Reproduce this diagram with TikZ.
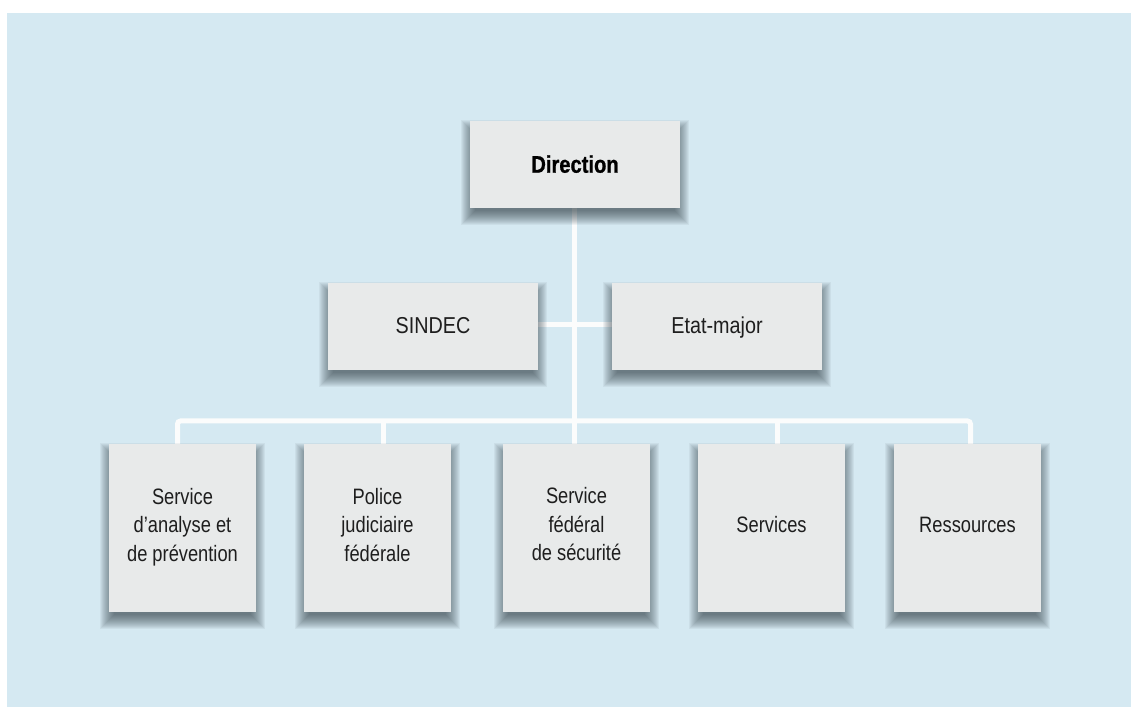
\documentclass[tikz,border=0pt]{standalone}
\usepackage{fontspec}
\setmainfont{Liberation Sans}[FakeStretch=0.82]
\newfontfamily\dirfont{Liberation Sans}[FakeStretch=0.84, BoldFeatures={FakeBold=0.8}]
\newfontfamily\midfont{Liberation Sans}[FakeStretch=0.86]
\definecolor{bgblue}{HTML}{D5E9F2}
\definecolor{boxfill}{HTML}{E8EAEA}
\definecolor{linecol}{HTML}{FBFCFC}
\definecolor{txt}{HTML}{1E1E1E}
\definecolor{shadowcol}{HTML}{2B3A42}
\tikzset{
  orgbox/.style={fill=boxfill, draw=none, inner sep=0pt},
  topbox/.style={orgbox, minimum width=210pt, minimum height=87pt},
  lowbox/.style={orgbox, minimum width=147pt, minimum height=168pt},
  shadowlayer/.style={fill=shadowcol, opacity=0.057},
  lowtext/.style={align=center, text=txt, font=\fontsize{22.3}{28.3}\selectfont, inner sep=0pt, anchor=base},
  midtext/.style={text=txt, font=\midfont\fontsize{23}{28}\selectfont, inner sep=0pt, anchor=base},
  dirtext/.style={text=black, font=\dirfont\bfseries\fontsize{24}{28}\selectfont, inner sep=0pt, anchor=base},
  conn/.style={draw=linecol, line width=5pt, rounded corners=3pt}
}
\newcommand\softshadow[1]{%
  \foreach \r [evaluate=\r as \lo using -8-\r, evaluate=\r as \hi using -8+\r,
               evaluate=\r as \nr using -\r] in {-5,...,9} {
    \fill[shadowlayer] ([shift={(\nr pt,\lo pt)}]#1.south west) rectangle ([shift={(\r pt,\hi pt)}]#1.north east);
  }%
}
\begin{document}
\begin{tikzpicture}[x=1pt,y=1pt]
\useasboundingbox (0,0) rectangle (1131,707);
\fill[white] (0,0) rectangle (1131,707);
\fill[bgblue] (7,0) rectangle (1131,694);

% connector junction coordinates
\coordinate (d1) at (177.5,286);
\coordinate (d2) at (383,286);
\coordinate (d3) at (574.5,286);
\coordinate (d4) at (777,286);
\coordinate (d5) at (970.5,286);
\coordinate (top) at (574.5,510);
\coordinate (jl) at (530,382);
\coordinate (jr) at (620,382);

% box positions (placeholders for names)
\path (575,542.5) node[topbox, fill=none] (dir) {};
\path (433,380.5) node[topbox, fill=none] (sindec) {};
\path (717,380.5) node[topbox, fill=none] (etat) {};
\path (182.5,179) node[lowbox, fill=none] (b1) {};
\path (377.5,179) node[lowbox, fill=none] (b2) {};
\path (576.5,179) node[lowbox, fill=none] (b3) {};
\path (771.5,179) node[lowbox, fill=none] (b4) {};
\path (967.5,179) node[lowbox, fill=none] (b5) {};

% connectors
\draw[conn] (top) -- (d3) -- (d3 |- b3.north);
\draw[conn] (jl) -- (jr);
\draw[conn] (d1 |- b1.north) -- (d1) -- (d5) -- (d5 |- b5.north);
\draw[conn] (d2) -- (d2 |- b2.north);
\draw[conn] (d4) -- (d4 |- b4.north);

% shadows
\softshadow{dir}
\softshadow{sindec}
\softshadow{etat}
\softshadow{b1}
\softshadow{b2}
\softshadow{b3}
\softshadow{b4}
\softshadow{b5}

% box faces
\fill[boxfill] (dir.south west) rectangle (dir.north east);
\fill[boxfill] (sindec.south west) rectangle (sindec.north east);
\fill[boxfill] (etat.south west) rectangle (etat.north east);
\fill[boxfill] (b1.south west) rectangle (b1.north east);
\fill[boxfill] (b2.south west) rectangle (b2.north east);
\fill[boxfill] (b3.south west) rectangle (b3.north east);
\fill[boxfill] (b4.south west) rectangle (b4.north east);
\fill[boxfill] (b5.south west) rectangle (b5.north east);

% texts
\node[dirtext] (dirt) at (575,534.3) {Direction};
\node[midtext] (sindect) at (433,373) {SINDEC};
\node[midtext] (etatt) at (717,373) {Etat-major};

\node[lowtext] (t1) at (182.5,146) {Service\\d’analyse et\\de prévention};
\node[lowtext] (t2) at (377.5,146) {Police\\judiciaire\\fédérale};
\node[lowtext] (t3) at (576.5,146.5) {Service\\fédéral\\de sécurité};
\node[lowtext] (t4) at (771.5,174.3) {Services};
\node[lowtext] (t5) at (967.5,174.3) {Ressources};
\end{tikzpicture}
\end{document}
